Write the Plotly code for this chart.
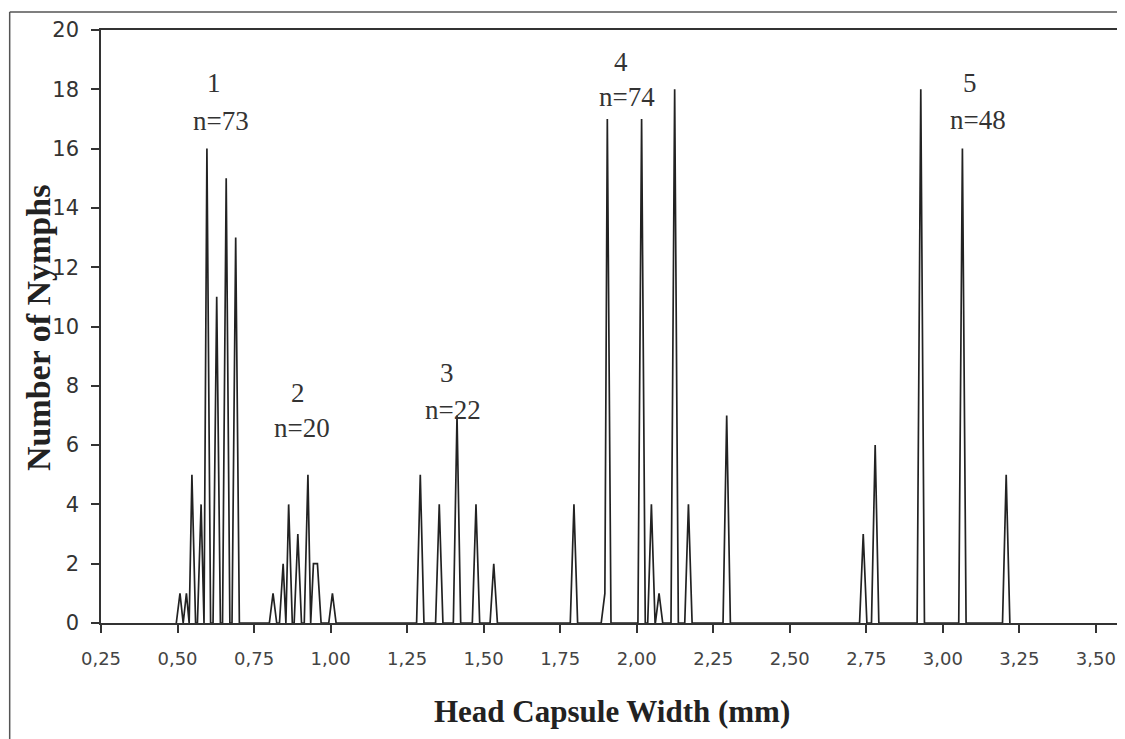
import plotly.graph_objects as go

# ---- data ----
# head capsule width classes (mm) with a non-zero count, and the counts
instar1_width = [0.508, 0.529, 0.547, 0.577, 0.596, 0.628, 0.659, 0.690]
instar1_count = [1, 1, 5, 4, 16, 11, 15, 13]

instar2_width = [0.812, 0.845, 0.863, 0.893, 0.926, 0.944, 0.957, 1.006]
instar2_count = [1, 2, 4, 3, 5, 2, 2, 1]

instar3_width = [1.293, 1.355, 1.413, 1.475, 1.533]
instar3_count = [5, 4, 7, 4, 2]

instar4_width = [1.795, 1.896, 1.904, 2.016, 2.048, 2.073, 2.124, 2.169, 2.294]
instar4_count = [4, 1, 17, 17, 4, 1, 18, 4, 7]

instar5_width = [2.740, 2.779, 2.928, 3.064, 3.207]
instar5_count = [3, 6, 18, 16, 5]

group_labels = ["1", "2", "3", "4", "5"]
group_n = ["n=73", "n=20", "n=22", "n=74", "n=48"]

x_tick_vals = [0.25, 0.50, 0.75, 1.00, 1.25, 1.50, 1.75, 2.00, 2.25, 2.50, 2.75, 3.00, 3.25, 3.50]
x_tick_text = ["0,25", "0,50", "0,75", "1,00", "1,25", "1,50", "1,75", "2,00", "2,25",
               "2,50", "2,75", "3,00", "3,25", "3,50"]

# ---- build the frequency line: empty width classes have count 0 ----
CLASS_HALF = 0.012   # neighbouring empty class offset (mm)
ADJACENT = 0.0135    # classes this close are consecutive non-empty classes

widths = instar1_width + instar2_width + instar3_width + instar4_width + instar5_width
counts = instar1_count + instar2_count + instar3_count + instar4_count + instar5_count
pairs = sorted(zip(widths, counts))

line_x, line_y = [], []
line_x.append(pairs[0][0] - CLASS_HALF)
line_y.append(0)
for i, (w, c) in enumerate(pairs):
    line_x.append(w)
    line_y.append(c)
    if i + 1 < len(pairs):
        nxt = pairs[i + 1][0]
        gap = nxt - w
        if gap <= ADJACENT:
            continue
        elif gap < 2 * CLASS_HALF:
            line_x.append((w + nxt) / 2)
            line_y.append(0)
        else:
            line_x += [w + CLASS_HALF, nxt - CLASS_HALF]
            line_y += [0, 0]
line_x.append(pairs[-1][0] + CLASS_HALF)
line_y.append(0)

fig = go.Figure()
fig.add_trace(go.Scatter(
    x=line_x, y=line_y, mode="lines",
    line=dict(color="#222222", width=1.7),
    showlegend=False, hoverinfo="skip",
))

# group labels
label_pos_x = [0.618, 0.892, 1.379, 1.949, 3.090]
label_pos_y = [18.21, 7.76, 8.43, 18.92, 18.21]
n_pos_x = [0.641, 0.908, 1.399, 1.968, 3.116]
n_pos_y = [16.93, 6.58, 7.18, 17.74, 16.96]

serif = "Liberation Serif, Times New Roman, serif"
for lab, lx, ly in zip(group_labels, label_pos_x, label_pos_y):
    fig.add_annotation(x=lx, y=ly, text=lab, showarrow=False,
                       font=dict(family=serif, size=27, color="#333333"),
                       xanchor="center", yanchor="middle")
for lab, lx, ly in zip(group_n, n_pos_x, n_pos_y):
    fig.add_annotation(x=lx, y=ly, text=lab, showarrow=False,
                       font=dict(family=serif, size=27, color="#333333"),
                       xanchor="center", yanchor="middle")

# geometry (page body has an 8px margin, so the figure is shifted by 8px)
W, H = 1117, 731
L, R, T, B = 93, 6, 22, 116
PW, PH = W - L - R, H - T - B


def px_x(px):
    return (px - 8 - L) / PW


def px_y(py):
    return (H - B - (py - 8)) / PH


# axis titles
fig.add_annotation(xref="paper", yref="paper", x=px_x(38), y=px_y(328),
                   text="<b>Number of Nymphs</b>", textangle=-90, showarrow=False,
                   font=dict(family=serif, size=34, color="#222222"),
                   xanchor="center", yanchor="middle")
fig.add_annotation(xref="paper", yref="paper", x=px_x(613), y=px_y(711),
                   text="<b>Head Capsule Width (mm)</b>", showarrow=False,
                   font=dict(family=serif, size=31, color="#222222"),
                   xanchor="center", yanchor="middle")

# outer frame (left and top edges of the picture)
border = dict(color="#555555", width=1.5)
fig.add_shape(type="line", xref="paper", yref="paper",
              x0=px_x(9.5), y0=px_y(12), x1=px_x(1130), y1=px_y(12), line=border)
fig.add_shape(type="line", xref="paper", yref="paper",
              x0=px_x(9.5), y0=px_y(12), x1=px_x(9.5), y1=px_y(745), line=border)

fig.update_layout(
    width=W, height=H,
    margin=dict(l=L, r=R, t=T, b=B),
    paper_bgcolor="white", plot_bgcolor="white",
    xaxis=dict(
        range=[0.25, 3.569], tickvals=x_tick_vals, ticktext=x_tick_text,
        ticks="outside", ticklen=8, tickwidth=1.5, tickcolor="#333333",
        showline=True, linecolor="#333333", linewidth=1.5, mirror=True,
        showgrid=False, zeroline=False,
        tickfont=dict(family="DejaVu Sans", size=18, color="#444444"),
        ticklabelstandoff=11,
    ),
    yaxis=dict(
        range=[0, 20], tick0=0, dtick=2,
        ticks="outside", ticklen=8, tickwidth=1.5, tickcolor="#333333",
        showline=True, linecolor="#333333", linewidth=1.5, mirror=True,
        showgrid=False, zeroline=False,
        tickfont=dict(family="DejaVu Sans", size=21, color="#333333"),
        ticklabelstandoff=8,
    ),
)

fig.write_html("out.html")
